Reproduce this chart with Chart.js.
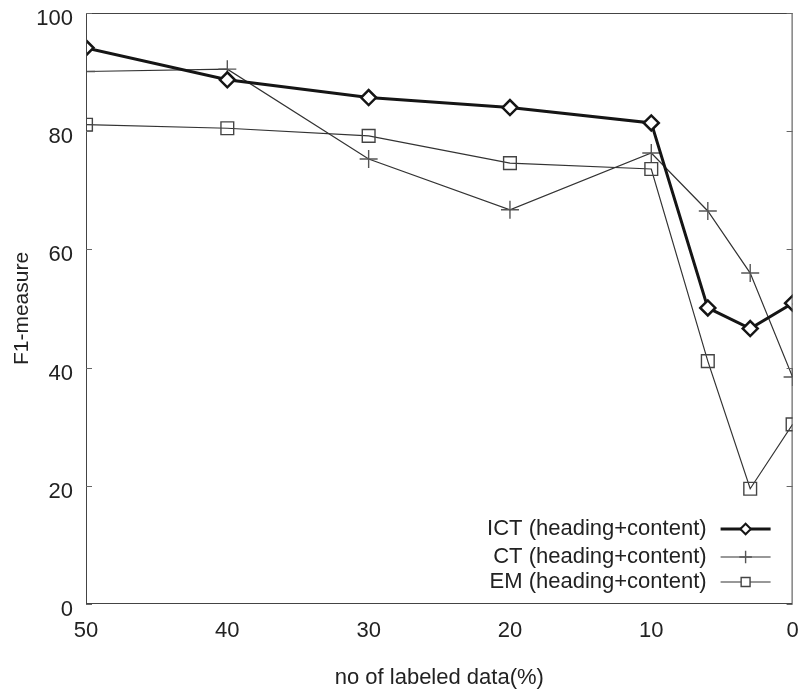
<!DOCTYPE html>
<html>
<head>
<meta charset="utf-8">
<script src="https://cdn.jsdelivr.net/npm/chart.js@4.4.0/dist/chart.umd.min.js"></script>
<style>
  html, body { margin: 0; padding: 0; background: #fff; }
  #wrap { width: 803px; height: 695px; }
</style>
</head>
<body>
<div id="wrap"><canvas id="f1Chart" width="803" height="695"></canvas></div>
<script>
// labeled data (%) at each point
const labeledPct = [50, 40, 30, 20, 10, 6, 3, 0];
const ictValues = [94.1, 88.7, 85.7, 84.0, 81.4, 50.1, 46.6, 50.9];
const ctValues = [90.1, 90.5, 75.3, 66.7, 76.3, 66.5, 56.0, 38.4];
const emValues = [81.1, 80.5, 79.2, 74.6, 73.6, 41.1, 19.5, 30.4];
const seriesNames = ['ICT (heading+content)', 'CT (heading+content)', 'EM (heading+content)'];
const xTicks = [50, 40, 30, 20, 10, 0];
const yTicks = [0, 20, 40, 60, 80, 100];

const FONT = "'Liberation Sans', Arial, sans-serif";
const TEXT = '#222';

function toPoints(values) {
  return labeledPct.map((x, i) => ({ x: x, y: values[i] }));
}

// no extra room for overhanging tick labels
function noOverhang(s) {
  s.paddingLeft = 0; s.paddingRight = 0;
  s.paddingTop = 0; s.paddingBottom = 0;
}

// frame, inner tick marks on both y sides, and a gnuplot style key
const framePlugin = {
  id: 'frame',
  afterDatasetsDraw(chart) {
    const { ctx, chartArea: a, scales } = chart;
    ctx.save();
    ctx.lineWidth = 1;
    ctx.strokeStyle = '#444';
    ctx.strokeRect(a.left + 0.5, a.top + 0.5, a.right - a.left - 1, a.bottom - a.top - 1);
    ctx.strokeStyle = '#666';
    ctx.beginPath();
    yTicks.forEach(v => {
      const py = Math.round(scales.y.getPixelForValue(v)) + 0.5;
      ctx.moveTo(a.left, py); ctx.lineTo(a.left + 6, py);
      ctx.moveTo(a.right, py); ctx.lineTo(a.right - 6, py);
    });
    ctx.stroke();

    // key
    const textRight = a.right - 86;
    const lineL = a.right - 72, lineR = a.right - 22;
    const rowY = [a.bottom - 75, a.bottom - 47, a.bottom - 22];
    ctx.font = '22px ' + FONT;
    ctx.textAlign = 'right';
    ctx.textBaseline = 'middle';
    chart.data.datasets.forEach((ds, i) => {
      const y = rowY[i];
      ctx.fillStyle = TEXT;
      ctx.fillText(ds.label, textRight, y);
      ctx.strokeStyle = ds.borderColor;
      ctx.lineWidth = ds.borderWidth;
      ctx.beginPath();
      ctx.moveTo(lineL, y); ctx.lineTo(lineR, y);
      ctx.stroke();
      const opts = {
        pointStyle: ds.pointStyle,
        radius: ds.pointRadius * 0.7,
        borderWidth: ds.pointBorderWidth
      };
      ctx.strokeStyle = ds.pointBorderColor;
      ctx.fillStyle = '#fff';
      ctx.lineWidth = Math.min(ds.pointBorderWidth, 2);
      Chart.helpers.drawPoint(ctx, opts, (lineL + lineR) / 2, y);
    });
    ctx.restore();
  }
};

const ctx = document.getElementById('f1Chart').getContext('2d');
new Chart(ctx, {
  type: 'line',
  data: {
    datasets: [
      {
        label: seriesNames[0],
        data: toPoints(ictValues),
        borderColor: '#151515',
        borderWidth: 3,
        pointStyle: 'rectRot',
        pointRadius: 7.5,
        pointBorderWidth: 2.5,
        pointBorderColor: '#151515',
        pointBackgroundColor: '#fff',
        tension: 0
      },
      {
        label: seriesNames[1],
        data: toPoints(ctValues),
        borderColor: '#333',
        borderWidth: 1.2,
        pointStyle: 'cross',
        pointRadius: 9,
        pointBorderWidth: 1.4,
        pointBorderColor: '#555',
        pointBackgroundColor: '#555',
        tension: 0
      },
      {
        label: seriesNames[2],
        data: toPoints(emValues),
        borderColor: '#333',
        borderWidth: 1.2,
        pointStyle: 'rect',
        pointRadius: 9,
        pointBorderWidth: 1.4,
        pointBorderColor: '#444',
        pointBackgroundColor: 'rgba(255,255,255,0)',
        tension: 0
      }
    ]
  },
  options: {
    responsive: false,
    animation: false,
    layout: { padding: { top: 13, right: 8, left: 0, bottom: 0 } },
    plugins: {
      legend: { display: false },
      tooltip: { enabled: false }
    },
    scales: {
      x: {
        type: 'linear',
        min: 0,
        max: 50,
        reverse: true,
        afterFit: s => { s.height = 91; noOverhang(s); },
        afterBuildTicks: s => { s.ticks = xTicks.map(v => ({ value: v })); },
        grid: { display: false, drawTicks: false },
        border: { display: false },
        ticks: { color: TEXT, font: { family: FONT, size: 22 }, padding: 14, maxRotation: 0 },
        title: {
          display: true,
          text: 'no of labeled data(%)',
          color: TEXT,
          font: { family: FONT, size: 22 },
          padding: { top: 0, bottom: 4 }
        }
      },
      y: {
        min: 0,
        max: 100,
        afterFit: s => { s.width = 86; noOverhang(s); },
        afterBuildTicks: s => { s.ticks = yTicks.map(v => ({ value: v })); },
        grid: { display: false, drawTicks: false },
        border: { display: false },
        ticks: { color: TEXT, font: { family: FONT, size: 22 }, padding: 13, labelOffset: 6 },
        title: {
          display: true,
          text: 'F1-measure',
          color: TEXT,
          font: { family: FONT, size: 21 },
          padding: { top: 10, bottom: 0 }
        }
      }
    }
  },
  plugins: [framePlugin]
});
</script>
</body>
</html>
